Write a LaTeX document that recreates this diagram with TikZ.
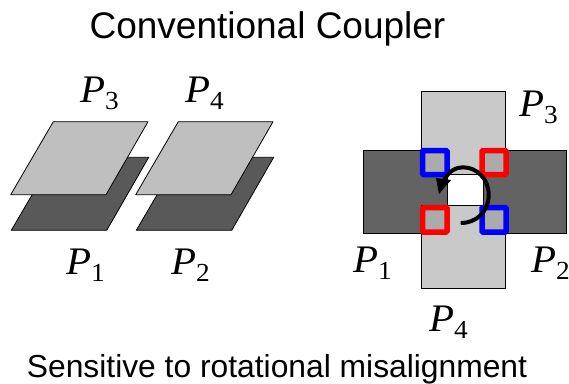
\documentclass[tikz,border=0pt]{standalone}
\usepackage{fontspec}
\setmainfont{Liberation Sans}
\newfontfamily\pfont[FakeStretch=1.05]{Liberation Serif}
\definecolor{lightp}{HTML}{BFBFBF}
\definecolor{darkp}{HTML}{595959}
\definecolor{lightq}{HTML}{C9C9C9}
\definecolor{darkq}{HTML}{636363}
\definecolor{midq}{HTML}{ABABAB}
\newcommand{\plab}[1]{{\fontsize{39}{39}\selectfont\pfont\itshape P}\raisebox{-7pt}{\fontsize{26}{26}\selectfont\pfont #1}}
\tikzset{
  upper/.style={draw=black,fill=lightp,line width=0.8pt,line join=round},
  lower/.style={draw=black,fill=darkp,line width=0.8pt,line join=round},
  upperq/.style={draw=black,fill=lightq,line width=0.8pt},
  lowerq/.style={draw=black,fill=darkq,line width=0.8pt},
  redbox/.style={draw={rgb,1:red,1;green,0;blue,0},fill=midq,line width=5.5pt,rounded corners=1pt},
  bluebox/.style={draw={rgb,1:red,0;green,0;blue,1},fill=midq,line width=5.5pt,rounded corners=1pt},
  lab/.style={inner sep=0pt,anchor=base west},
  ttl/.style={inner sep=0pt,font=\fontsize{37}{37}\selectfont},
  captxt/.style={inner sep=0pt,font=\fontsize{31.8}{32}\selectfont}
}
\begin{document}
\begin{tikzpicture}[x=1pt,y=-1pt]
\useasboundingbox (0,0) rectangle (569,383);
\fill[white] (0,0) rectangle (569,383);
\node[ttl] (title) at (267.5,29) {Conventional Coupler};
\node[captxt] (caption) at (277,369) {Sensitive to rotational misalignment};
% left plates
\draw[lower] (54,157.3) -- (148.7,157.3) -- (106.7,230.3) -- (11.3,230.3) -- cycle;
\draw[upper] (53.3,121.7) -- (148,121.7) -- (106,194.7) -- (10.7,194.7) -- cycle;
\draw[lower] (179,157.3) -- (273.7,157.3) -- (231.7,230.3) -- (136.3,230.3) -- cycle;
\draw[upper] (178.3,121.7) -- (273,121.7) -- (231,194.7) -- (135.7,194.7) -- cycle;
\node[lab] (a3) at (80,102) {\plab{3}};
\node[lab] (a4) at (185,102) {\plab{4}};
\node[lab] (a1) at (66,274) {\plab{1}};
\node[lab] (a2) at (171,274) {\plab{2}};
% right cross
\draw[lowerq] (363.3,150.3) rectangle (447,233.7);
\draw[lowerq] (483,150.3) rectangle (566,233.7);
\draw[upperq] (421.7,91.7) rectangle (505,174.3);
\draw[upperq] (421.7,205) rectangle (505,288.7);
\draw[bluebox] (422.5,150.5) rectangle (447,174.5);
\draw[redbox] (482,150.5) rectangle (506,174.5);
\draw[redbox] (422.5,207.5) rectangle (447,232);
\draw[bluebox] (482,207.5) rectangle (506,232);
\draw[line width=4pt,draw=black] (460.7,223) .. controls (477,223) and (488.7,211) .. (488.7,195) .. controls (488.7,179) and (477,167.3) .. (463,167.3) .. controls (456,167.3) and (449,171) .. (444,180);
\fill[black] (439,194) -- (436,178) -- (451,180) -- cycle;
\node[lab] (b3) at (519,116) {\plab{3}};
\node[lab] (b1) at (353,272) {\plab{1}};
\node[lab] (b2) at (531,272) {\plab{2}};
\node[lab] (b4) at (429,331) {\plab{4}};
\end{tikzpicture}
\end{document}
